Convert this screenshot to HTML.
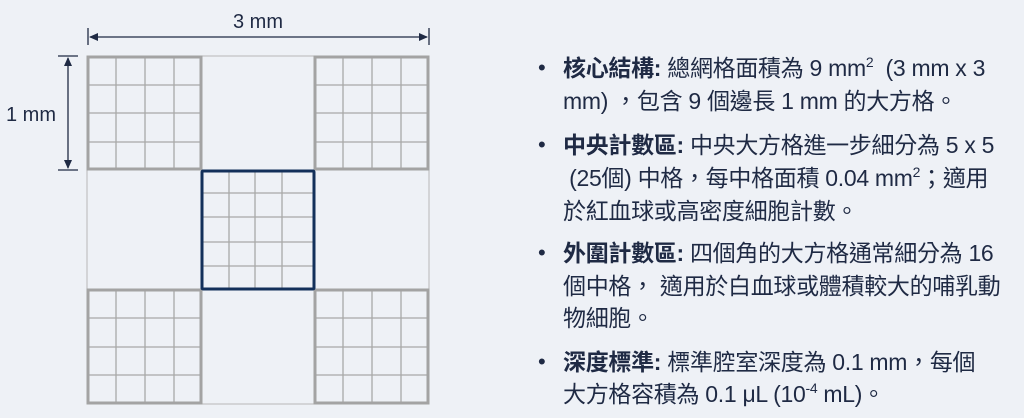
<!DOCTYPE html>
<html><head><meta charset="utf-8"><style>
body{margin:0;width:1024px;height:418px;background:#eef1f6;overflow:hidden;position:relative;font-family:"Liberation Sans","Noto Sans CJK TC",sans-serif;color:#1f2a44}
.l{position:absolute;left:563px;font-size:23px;line-height:32px;white-space:nowrap;letter-spacing:-0.3px}
.b{position:absolute;left:538px;font-size:22px;line-height:32px}
sup{font-size:14px;vertical-align:9px;line-height:0}
</style></head><body>
<svg width="460" height="418" style="position:absolute;left:0;top:0">
<g stroke="#b8b8b8" stroke-width="1" fill="none">
<rect x="87" y="56" width="342" height="348"/>
<line x1="87" y1="170" x2="429" y2="170"/><line x1="87" y1="289" x2="429" y2="289"/>
<line x1="202" y1="56" x2="202" y2="404"/><line x1="314" y1="56" x2="314" y2="404"/>
</g>
<g stroke="#a8a8a8" stroke-width="1.3" fill="none">
<path d="M116 56V170M145 56V170M174 56V170M87 85H202M87 113H202M87 142H202"/>
<path d="M343 56V170M372 56V170M401 56V170M314 85H429M314 113H429M314 142H429"/>
<path d="M116 289V404M145 289V404M174 289V404M87 318H202M87 347H202M87 375H202"/>
<path d="M343 289V404M372 289V404M401 289V404M314 318H429M314 347H429M314 375H429"/>
<path d="M229 170V289M255 170V289M282 170V289M202 193H314M202 217H314M202 242H314M202 266H314"/>
</g>
<g stroke="#a3a3a3" stroke-width="3" fill="none">
<rect x="88" y="57" width="113" height="112"/>
<rect x="315" y="57" width="113" height="112"/>
<rect x="88" y="290" width="113" height="113"/>
<rect x="315" y="290" width="113" height="113"/>
</g>
<rect x="202" y="171" width="112" height="118" stroke="#13305a" stroke-width="3" fill="none" rx="1"/>
<g stroke="#1f2a44" stroke-width="1.3" fill="#1f2a44">
<line x1="88" y1="28" x2="88" y2="45"/><line x1="429" y1="28" x2="429" y2="45"/>
<line x1="90" y1="37" x2="427" y2="37"/>
<path d="M89 37l9-4v8z M428 37l-9-4v8z" stroke="none"/>
<line x1="58" y1="56" x2="78" y2="56"/><line x1="58" y1="170" x2="78" y2="170"/>
<line x1="68" y1="58" x2="68" y2="168"/>
<path d="M68 57l-4 9h8z M68 169l-4-9h8z" stroke="none"/>
</g>
<text x="258" y="28" font-size="20" fill="#1f2a44" text-anchor="middle" font-family="Liberation Sans">3 mm</text>
<text x="31" y="121" font-size="20" fill="#1f2a44" text-anchor="middle" font-family="Liberation Sans">1 mm</text>
</svg>
<div class="b" style="top:52px">•</div>
<div class="l" style="top:52px"><b>核心結構:</b> 總網格面積為 9 mm<sup>2</sup>&nbsp; (3 mm x 3</div>
<div class="l" style="top:85px">mm) ，包含 9 個邊長 1 mm 的大方格。</div>
<div class="b" style="top:129px">•</div>
<div class="l" style="top:129px"><b>中央計數區:</b> 中央大方格進一步細分為 5 x 5</div>
<div class="l" style="top:162px">&nbsp;(25個) 中格，每中格面積 0.04 mm<sup>2</sup>；適用</div>
<div class="l" style="top:195px">於紅血球或高密度細胞計數。</div>
<div class="b" style="top:237px">•</div>
<div class="l" style="top:237px"><b>外圍計數區:</b> 四個角的大方格通常細分為 16</div>
<div class="l" style="top:270px">個中格， 適用於白血球或體積較大的哺乳動</div>
<div class="l" style="top:302px">物細胞。</div>
<div class="b" style="top:346px">•</div>
<div class="l" style="top:346px"><b>深度標準:</b> 標準腔室深度為 0.1 mm，每個</div>
<div class="l" style="top:378px">大方格容積為 0.1 μL (10<sup>-4</sup> mL)。</div>
</body></html>
